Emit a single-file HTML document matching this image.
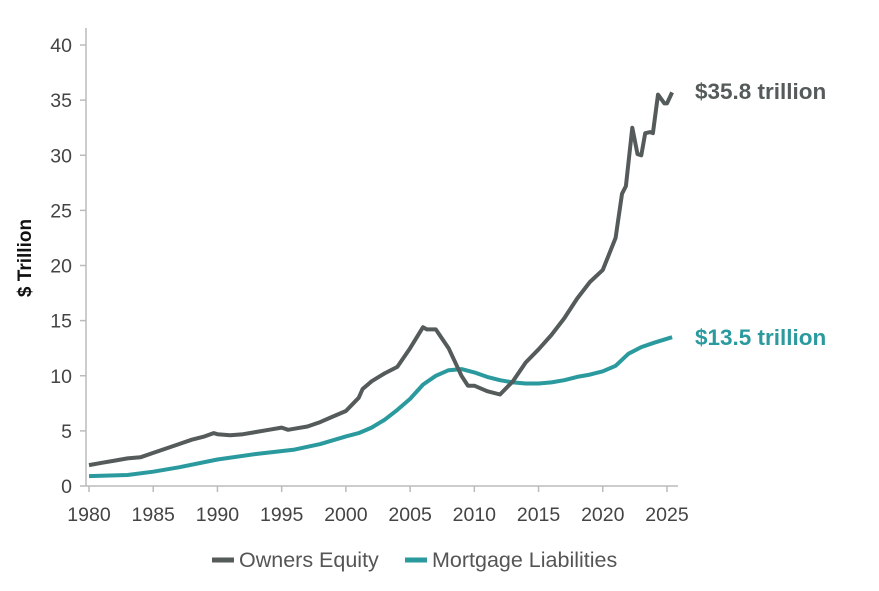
<!DOCTYPE html>
<html><head><meta charset="utf-8"><style>
body{margin:0;background:#fff;font-family:"Liberation Sans",sans-serif}
svg text{font-family:"Liberation Sans",sans-serif}
</style></head><body>
<svg id="chart" width="879" height="586" viewBox="0 0 879 586">
<g id="axes"></g>
<g id="series"></g>
<text x="695" y="99" font-size="22.5" font-weight="bold" fill="#555a5a">$35.8 trillion</text>
<text x="695" y="345" font-size="22.5" font-weight="bold" fill="#2a9a9e">$13.5 trillion</text>
<text transform="translate(31,258) rotate(-90)" text-anchor="middle" font-size="19" font-weight="bold" fill="#111">$ Trillion</text>
<g>
<g><line x1="212" y1="560" x2="234" y2="560" stroke="#555a5a" stroke-width="5"/><text x="239" y="567" font-size="21.5" fill="#555">Owners Equity</text></g>
<g><line x1="405" y1="560" x2="427" y2="560" stroke="#2a9a9e" stroke-width="5"/><text x="432" y="567" font-size="21.5" fill="#555">Mortgage Liabilities</text></g>
</g>
</svg>
<script>
const xTicks=[1980,1985,1990,1995,2000,2005,2010,2015,2020,2025];
const yTicks=[0,5,10,15,20,25,30,35,40];
const equityYears=[1980,1981,1982,1983,1984,1985,1986,1987,1988,1989,1989.7,1990,1991,1992,1993,1994,1995,1995.5,1996,1997,1998,1999,2000,2001,2001.3,2002,2003,2004,2005,2006,2006.3,2007,2008,2009,2009.5,2010,2011,2012,2013,2014,2015,2016,2017,2018,2019,2020,2021,2021.5,2021.8,2022.3,2022.7,2023,2023.3,2023.7,2023.9,2024.3,2024.8,2025,2025.4];
const equityValues=[1.9,2.1,2.3,2.5,2.6,3.0,3.4,3.8,4.2,4.5,4.8,4.7,4.6,4.7,4.9,5.1,5.3,5.1,5.2,5.4,5.8,6.3,6.8,8.0,8.8,9.5,10.2,10.8,12.5,14.4,14.2,14.2,12.5,10.0,9.1,9.1,8.6,8.3,9.5,11.2,12.4,13.7,15.2,17.0,18.5,19.6,22.5,26.5,27.2,32.5,30.1,30.0,32.0,32.1,32.0,35.5,34.7,34.7,35.7];
const mortgageYears=[1980,1983,1985,1987,1990,1993,1996,1998,2000,2001,2002,2003,2004,2005,2006,2007,2008,2009,2010,2011,2012,2013,2014,2015,2016,2017,2018,2019,2020,2021,2022,2023,2024,2025.4];
const mortgageValues=[0.9,1.0,1.3,1.7,2.4,2.9,3.3,3.8,4.5,4.8,5.3,6.0,6.9,7.9,9.2,10.0,10.5,10.6,10.3,9.9,9.6,9.4,9.3,9.3,9.4,9.6,9.9,10.1,10.4,10.9,12.0,12.6,13.0,13.5];
const NS="http://www.w3.org/2000/svg";
const x=v=>89+(v-1980)*(667-89)/45;
const y=v=>486-v*(486-45)/40;
function mk(tag,attrs,parent){const e=document.createElementNS(NS,tag);for(const k in attrs)e.setAttribute(k,attrs[k]);parent.appendChild(e);return e;}
const axes=document.getElementById('axes');
let a=mk('line',{x1:86,y1:28,x2:86,y2:486,stroke:'#bbb','stroke-width':1.5},axes);


a=mk('line',{x1:86,y1:486,x2:678,y2:486,stroke:'#bbb','stroke-width':1.5},axes);


yTicks.forEach(t=>{
 const l=mk('line',{x1:80,y1:y(t),x2:86,y2:y(t),stroke:'#bbb','stroke-width':1.5},axes);
 
 
 const tx=mk('text',{x:72,y:y(t)+7,'text-anchor':'end','font-size':19.5,fill:'#444'},axes);
 tx.textContent=t;
 
 
});
xTicks.forEach(t=>{
 const l=mk('line',{x1:x(t),y1:486,x2:x(t),y2:492,stroke:'#bbb','stroke-width':1.5},axes);
 
 
 const tx=mk('text',{x:x(t),y:521,'text-anchor':'middle','font-size':19.5,fill:'#444'},axes);
 tx.textContent=t;
 
 
});
const series=document.getElementById('series');
const pts=(xs,vs)=>xs.map((v,i)=>x(v).toFixed(1)+','+y(vs[i]).toFixed(1)).join(' ');
let p=mk('polyline',{points:pts(mortgageYears,mortgageValues),fill:'none',stroke:'#2a9a9e','stroke-width':4,'stroke-linejoin':'round'},series);


p=mk('polyline',{points:pts(equityYears,equityValues),fill:'none',stroke:'#555a5a','stroke-width':4,'stroke-linejoin':'round'},series);


</script>
</body></html>
